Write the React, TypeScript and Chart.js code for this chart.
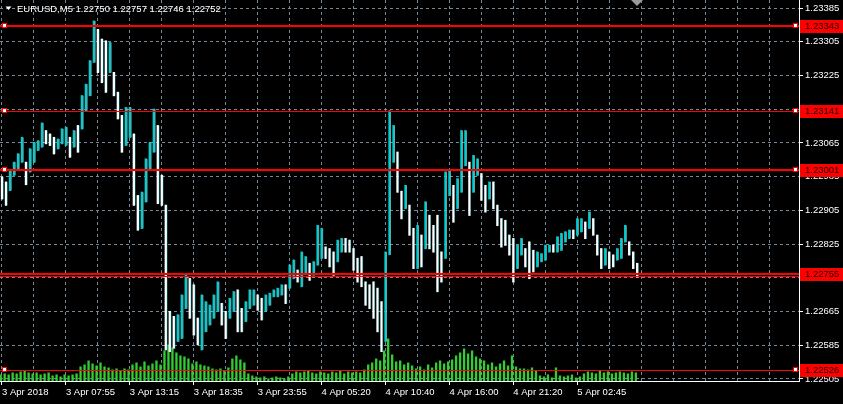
import React, { useEffect, useRef } from "react";
import { Chart, registerables } from "chart.js";

Chart.register(...registerables);

// ---- data ----
const symbolTitle = "EURUSD,M5";
const lastOHLC = ["1.22750", "1.22757", "1.22746", "1.22752"];

const timeTickLabels = [
  "3 Apr 2018", "3 Apr 07:55", "3 Apr 13:15", "3 Apr 18:35", "3 Apr 23:55",
  "4 Apr 05:20", "4 Apr 10:40", "4 Apr 16:00", "4 Apr 21:20", "5 Apr 02:45",
];

const priceTicks = [
  1.22505, 1.22585, 1.22665, 1.22745, 1.22825, 1.22905, 1.22985,
  1.23065, 1.23145, 1.23225, 1.23305, 1.23385,
];

// 20-minute price ranges (each slot groups four M5 bars)
const priceHigh = [
  1.22984, 1.22972, 1.22999, 1.23019, 1.23039, 1.23078, 1.23019, 1.23051, 1.23066, 1.23070,
  1.23112, 1.23094, 1.23086, 1.23078, 1.23074, 1.23098, 1.23102, 1.23078, 1.23094, 1.23106,
  1.23177, 1.23204, 1.23260, 1.23354, 1.23334, 1.23311, 1.23307, 1.23303, 1.23232, 1.23185,
  1.23130, 1.23149, 1.23149, 1.23086, 1.22940, 1.22948, 1.23027, 1.23066, 1.23145, 1.23106,
  1.22988, 1.22917, 1.22665, 1.22653, 1.22657, 1.22704, 1.22751, 1.22743, 1.22728, 1.22649,
  1.22704, 1.22688, 1.22680, 1.22704, 1.22735, 1.22684, 1.22665, 1.22696, 1.22712, 1.22716,
  1.22672, 1.22688, 1.22716, 1.22716, 1.22704, 1.22696, 1.22704, 1.22708, 1.22716, 1.22720,
  1.22728, 1.22728, 1.22775, 1.22787, 1.22763, 1.22806, 1.22795, 1.22779, 1.22783, 1.22869,
  1.22862, 1.22818, 1.22814, 1.22806, 1.22834, 1.22838, 1.22838, 1.22834, 1.22814, 1.22791,
  1.22795, 1.22735, 1.22728, 1.22735, 1.22720, 1.22688, 1.22806, 1.23141, 1.23106, 1.23043,
  1.22950, 1.22964, 1.22917, 1.22862, 1.22869, 1.22846, 1.22925, 1.22893, 1.22869, 1.22893,
  1.22806, 1.22996, 1.22999, 1.22964, 1.22980, 1.23094, 1.23094, 1.23019, 1.23035, 1.23027,
  1.22992, 1.22964, 1.22972, 1.22972, 1.22917, 1.22885, 1.22881, 1.22846, 1.22838, 1.22822,
  1.22838, 1.22814, 1.22830, 1.22810, 1.22806, 1.22802, 1.22822, 1.22822, 1.22822, 1.22842,
  1.22850, 1.22854, 1.22858, 1.22858, 1.22885, 1.22885, 1.22877, 1.22901, 1.22885, 1.22846,
  1.22814, 1.22814, 1.22806, 1.22799, 1.22814, 1.22838, 1.22869, 1.22830, 1.22806, 1.22779,
];

const priceLow = [
  1.22932, 1.22917, 1.22952, 1.22988, 1.23003, 1.23019, 1.22966, 1.22996, 1.23019, 1.23047,
  1.23055, 1.23063, 1.23059, 1.23039, 1.23051, 1.23063, 1.23059, 1.23031, 1.23055, 1.23043,
  1.23098, 1.23141, 1.23177, 1.23256, 1.23232, 1.23208, 1.23185, 1.23232, 1.23177, 1.23122,
  1.23043, 1.23059, 1.23078, 1.22917, 1.22858, 1.22862, 1.22925, 1.23003, 1.23043, 1.22921,
  1.22917, 1.22574, 1.22570, 1.22578, 1.22594, 1.22601, 1.22672, 1.22649, 1.22609, 1.22586,
  1.22574, 1.22617, 1.22633, 1.22649, 1.22665, 1.22633, 1.22601, 1.22649, 1.22665, 1.22617,
  1.22617, 1.22641, 1.22672, 1.22680, 1.22668, 1.22645, 1.22665, 1.22680, 1.22700, 1.22700,
  1.22704, 1.22684, 1.22720, 1.22743, 1.22735, 1.22724, 1.22755, 1.22739, 1.22751, 1.22775,
  1.22791, 1.22791, 1.22771, 1.22751, 1.22783, 1.22806, 1.22806, 1.22806, 1.22763, 1.22735,
  1.22724, 1.22680, 1.22672, 1.22649, 1.22617, 1.22570, 1.22594, 1.22800, 1.23019, 1.22948,
  1.22885, 1.22909, 1.22846, 1.22767, 1.22767, 1.22771, 1.22814, 1.22814, 1.22806, 1.22712,
  1.22735, 1.22791, 1.22940, 1.22877, 1.22909, 1.22948, 1.23011, 1.22893, 1.22948, 1.22988,
  1.22929, 1.22901, 1.22932, 1.22909, 1.22869, 1.22818, 1.22822, 1.22799, 1.22735, 1.22767,
  1.22799, 1.22771, 1.22743, 1.22759, 1.22771, 1.22783, 1.22787, 1.22806, 1.22806, 1.22806,
  1.22810, 1.22830, 1.22838, 1.22838, 1.22846, 1.22854, 1.22838, 1.22862, 1.22846, 1.22799,
  1.22767, 1.22775, 1.22767, 1.22771, 1.22787, 1.22791, 1.22830, 1.22799, 1.22767, 1.22747,
];

const tickVolume = [
  60, 70, 60, 80, 70, 90, 100, 80, 70, 80,
  60, 70, 80, 50, 60, 40, 60, 50, 60, 70,
  140, 160, 200, 170, 150, 180, 140, 130, 110, 120,
  100, 120, 110, 160, 180, 140, 190, 150, 170, 200,
  160, 300, 360, 330, 280, 250, 240, 220, 170, 190,
  160, 150, 140, 120, 110, 120, 100, 130, 220, 250,
  210, 180, 70, 50, 40, 30, 40, 20, 30, 40,
  30, 20, 40, 70, 90, 80, 90, 100, 80, 70,
  90, 80, 70, 90, 80, 100, 70, 90, 80, 90,
  80, 110, 160, 180, 220, 200, 300, 420, 260, 190,
  200, 160, 180, 150, 120, 140, 110, 160, 130, 180,
  200, 170, 190, 210, 250, 280, 320, 270, 300, 240,
  220, 200, 160, 180, 140, 170, 200, 150, 250, 140,
  120, 120, 110, 130, 100, 50, 40, 60, 30, 130,
  50, 40, 50, 60, 30, 40, 70, 90, 80, 70,
  100, 80, 90, 70, 80, 90, 80, 70, 90, 80,
];

const levelValues = [1.23343, 1.23141, 1.23001, 1.22755, 1.2275, 1.22526];

// ---- styles ----
const SLOT_COUNT = 200;
const LABEL_EVERY = 16;
const GRID_EVERY = 8;
const GRID = "#778899";
const RED = "#ff0000";
const CYAN = "#00ced1";
const WHITE = "#ffffff";
const FONT = { family: "'Liberation Sans', Arial, sans-serif", size: 9.5 };
const LEVEL_STYLE = [
  { w: 2, box: true, label: true },
  { w: 1, box: true, label: true },
  { w: 2, box: true, label: true },
  { w: 2, box: false, label: true },
  { w: 1, box: false, label: false },
  { w: 1, box: true, label: true },
];

const slotLabels = Array.from({ length: SLOT_COUNT }, (_, i) =>
  i % LABEL_EVERY === 0 && timeTickLabels[i / LABEL_EVERY] ? timeTickLabels[i / LABEL_EVERY] : ""
);

const rising = (i: number) => {
  if (i === 0) return false;
  return priceHigh[i] + priceLow[i] > priceHigh[i - 1] + priceLow[i - 1];
};

const overlayPlugin = {
  id: "mt4Overlay",
  afterDatasetsDraw(chart: any) {
    const { ctx, chartArea: a, scales } = chart;
    const y = scales.y;
    const x = scales.x;
    ctx.save();
    levelValues.forEach((v, i) => {
      const st = LEVEL_STYLE[i];
      const py = Math.round(y.getPixelForValue(v));
      ctx.fillStyle = RED;
      ctx.fillRect(0, st.w > 1 ? py - 1 : py, a.right, st.w);
    });
    levelValues.forEach((v, i) => {
      const st = LEVEL_STYLE[i];
      if (!st.box) return;
      const py = Math.round(y.getPixelForValue(v));
      [2, a.right - 6].forEach((bx) => {
        ctx.fillStyle = RED;
        ctx.fillRect(bx, py - 3, 5, 5);
        ctx.fillStyle = "#ffffff";
        ctx.fillRect(bx + 1, py - 2, 3, 3);
      });
    });
    ctx.font = `${FONT.size}px ${FONT.family}`;
    ctx.textBaseline = "middle";
    ctx.textAlign = "left";
    levelValues.forEach((v, i) => {
      const st = LEVEL_STYLE[i];
      if (!st.label) return;
      const py = Math.round(y.getPixelForValue(v));
      ctx.fillStyle = RED;
      ctx.fillRect(a.right + 1, py - 6, chart.width - a.right - 1, 13);
      ctx.fillStyle = "#1a0000";
      ctx.fillText(v.toFixed(5), a.right + 6, py + 0.5);
    });
    ctx.fillStyle = "#ffffff";
    ctx.beginPath();
    ctx.moveTo(5.5, 6.5);
    ctx.lineTo(11.5, 6.5);
    ctx.lineTo(8.5, 10);
    ctx.closePath();
    ctx.fill();
    ctx.textBaseline = "alphabetic";
    ctx.fillText(`${symbolTitle} ${lastOHLC.join(" ")}`, 17, 12);
    const sx = Math.round(x.getPixelForValue(priceHigh.length - 1));
    ctx.fillStyle = "#9a9a9a";
    ctx.beginPath();
    ctx.moveTo(sx - 6, 0);
    ctx.lineTo(sx + 6, 0);
    ctx.lineTo(sx, 6);
    ctx.closePath();
    ctx.fill();
    ctx.restore();
  },
};

export default function App() {
  const ref = useRef<HTMLCanvasElement | null>(null);

  useEffect(() => {
    if (!ref.current) return;
    const rangesA = priceLow.map((l, i) => [l, priceHigh[i]]);
    const rangesB = priceLow.map((l, i) => [l, priceHigh[i]]);
    const chart = new Chart(ref.current, {
      type: "bar",
      data: {
        labels: slotLabels,
        datasets: [
          {
            label: "volume",
            data: tickVolume,
            backgroundColor: "#32cd32",
            xAxisID: "xv",
            yAxisID: "yv",
            barPercentage: 1,
            categoryPercentage: 1,
            borderWidth: 0,
            inflateAmount: 0.5,
            order: 3,
          } as any,
          {
            label: "bars",
            data: rangesA,
            backgroundColor: (c: any) => (rising(c.dataIndex) ? CYAN : WHITE),
            xAxisID: "x",
            yAxisID: "y",
            barPercentage: 1,
            categoryPercentage: 1,
            borderWidth: 0,
            inflateAmount: 0.5,
            order: 2,
          },
          {
            label: "ticks",
            data: rangesB,
            backgroundColor: (c: any) => (rising(c.dataIndex) ? WHITE : CYAN),
            xAxisID: "xw",
            yAxisID: "y",
            barPercentage: 0.25,
            categoryPercentage: 1,
            borderWidth: 0,
            inflateAmount: 0,
            order: 1,
          },
        ],
      },
      options: {
        animation: false,
        responsive: false,
        devicePixelRatio: 1,
        layout: { padding: { left: -1, right: 0, top: 0, bottom: 0 } },
        plugins: { legend: { display: false }, tooltip: { enabled: false } },
        scales: {
          x: {
            type: "category",
            offset: true,
            position: "bottom",
            grid: {
              offset: false,
              color: (c: any) => (c.index % GRID_EVERY === 0 ? GRID : "rgba(0,0,0,0)"),
              tickColor: (c: any) => (c.tick && c.tick.label ? "#ffffff" : "rgba(0,0,0,0)"),
              tickLength: 4,
              lineWidth: 1,
            },
            border: { display: true, color: "#ffffff", width: 1, dash: [3, 3] },
            ticks: {
              autoSkip: false,
              maxRotation: 0,
              minRotation: 0,
              align: "start",
              padding: 2,
              color: "#ffffff",
              font: FONT,
            },
            afterFit: (s: any) => {
              s.height = 23;
              s.paddingLeft = 0;
              s.paddingRight = 0;
            },
          },
          xv: { type: "category", offset: true, display: false },
          xw: { type: "category", offset: true, display: false },
          y: {
            type: "linear",
            position: "right",
            min: 1.225,
            max: 1.23404,
            grid: { color: GRID, tickColor: "#ffffff", tickLength: 4, lineWidth: 1 },
            border: { display: true, color: "#ffffff", width: 1, dash: [3, 3] },
            ticks: {
              color: "#ffffff",
              font: FONT,
              padding: 2,
              crossAlign: "near",
              callback: (v: any) => Number(v).toFixed(5),
            },
            afterBuildTicks: (s: any) => {
              s.ticks = priceTicks.map((v) => ({ value: v }));
            },
            afterFit: (s: any) => {
              s.width = 44;
              s.paddingTop = 0;
              s.paddingBottom = 0;
            },
          },
          yv: { type: "linear", display: false, min: 0, max: 3810 },
        },
      } as any,
      plugins: [overlayPlugin],
    });
    return () => chart.destroy();
  }, []);

  return (
    <div
      style={{
        position: "fixed",
        left: 0,
        top: 0,
        width: 843,
        height: 404,
        background: "#000000",
        overflow: "hidden",
      }}
    >
      <canvas ref={ref} width={843} height={404} style={{ display: "block" }} />
    </div>
  );
}
